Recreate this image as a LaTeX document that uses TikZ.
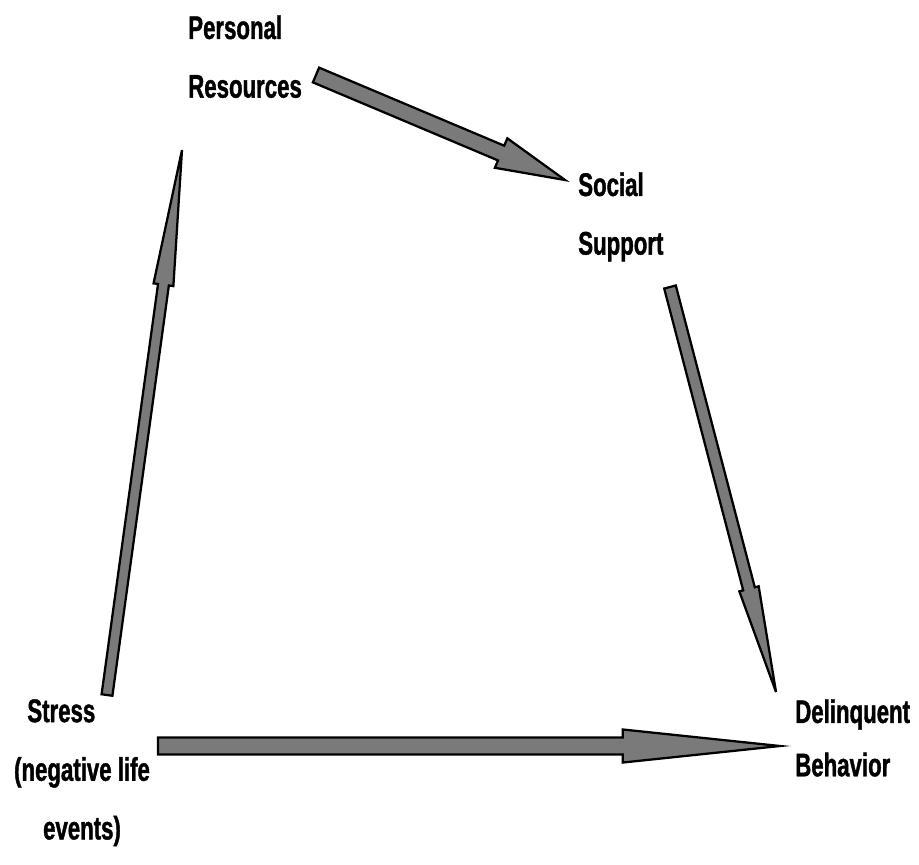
\documentclass[tikz,border=0pt]{standalone}
\usepackage{fontspec}
\usepackage{tikz}
\usetikzlibrary{calc}
\newfontfamily\labelfont[FakeStretch=0.68,FakeBold=1.2]{Liberation Sans}
\tikzset{
  label text/.style={inner sep=0pt, align=left, font=\labelfont\bfseries\fontsize{24.5}{44}\selectfont},
  arrowbody/.style={draw=black, line width=1.7pt, line join=miter, fill=black!52}
}
\newcommand{\blockarrow}[5]{%
  \coordinate (ba-base) at ($(#2)!#5!(#1)$);
  \draw[arrowbody] ($(#1)!#3!90:(#2)$) -- ($(ba-base)!#3!90:(#2)$) -- ($(ba-base)!#4!90:(#2)$)
    -- (#2) -- ($(ba-base)!#4!-90:(#2)$) -- ($(ba-base)!#3!-90:(#2)$) -- ($(#1)!#3!-90:(#2)$) -- cycle;
}

\begin{document}
\begin{tikzpicture}[x=0.75pt,y=-0.75pt]
\useasboundingbox (0,0) rectangle (919,864);
\node[label text, anchor=north west] (personal) at (188,15) {Personal\\Resources};
\node[label text, anchor=north west] (social) at (578,172) {Social\\Support};
\node[label text, anchor=north west] (delinquent) at (795,699) {Delinquent\\[-4pt]Behavior};
\node[label text, anchor=north, align=center] (stress) at (82,699) {Stress\hspace*{31pt}\\(negative life\\events)};
\coordinate (stress-up) at (107,695);
\coordinate (stress-right) at (158,746);
\coordinate (personal-out) at (316,75);
\coordinate (personal-in) at (182,150);
\coordinate (social-in) at (565,180);
\coordinate (social-out) at (670,287);
\coordinate (delinquent-top) at (776,692);
\coordinate (delinquent-left) at (780,746);
\blockarrow{stress-up}{personal-in}{4.1pt}{7.5pt}{102pt}
\blockarrow{personal-out}{social-in}{6pt}{12pt}{52pt}
\blockarrow{social-out}{delinquent-top}{4.5pt}{7.5pt}{80pt}
\blockarrow{stress-right}{delinquent-left}{6.4pt}{12.4pt}{118pt}
\end{tikzpicture}
\end{document}
